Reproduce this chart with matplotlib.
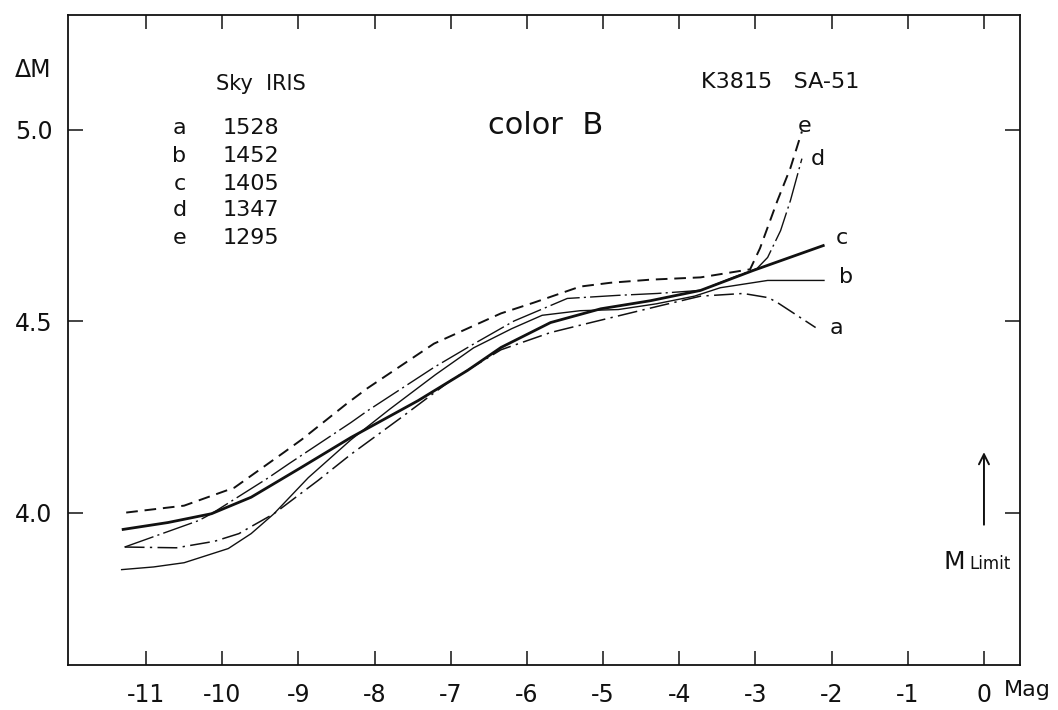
import numpy as np
import matplotlib
matplotlib.use("Agg")
import matplotlib.pyplot as plt

plt.rcParams['font.family'] = ['DejaVu Sans']
plt.rcParams['axes.unicode_minus'] = False

# curves (Mag, delta M)
a_x = [-11.28, -10.6, -10.1, -9.78, -9.65, -9.32, -8.74, -8.31, -7.65, -7.0, -6.34, -5.69, -5.16, -4.25, -3.72, -3.16, -2.83, -2.71, -2.21]
a_y = [3.91, 3.908, 3.925, 3.945, 3.96, 3.997, 4.084, 4.152, 4.248, 4.345, 4.425, 4.47, 4.496, 4.54, 4.565, 4.572, 4.561, 4.548, 4.483]

b_x = [-11.32, -10.9, -10.5, -9.92, -9.62, -9.32, -8.87, -8.31, -7.8, -7.2, -6.7, -6.2, -5.8, -5.3, -4.8, -4.3, -3.8, -3.46, -2.84, -2.1]
b_y = [3.851, 3.858, 3.869, 3.906, 3.945, 3.997, 4.091, 4.19, 4.27, 4.36, 4.43, 4.48, 4.515, 4.527, 4.53, 4.545, 4.565, 4.587, 4.606, 4.606]

c_x = [-11.3, -10.71, -10.14, -9.62, -8.96, -8.31, -7.43, -6.78, -6.34, -5.69, -5.03, -4.38, -3.72, -3.03, -2.11]
c_y = [3.956, 3.974, 3.997, 4.04, 4.118, 4.196, 4.292, 4.371, 4.431, 4.496, 4.532, 4.553, 4.58, 4.632, 4.697]

d_x = [-11.28, -10.31, -10.14, -9.4, -9.12, -8.31, -8.09, -7.22, -6.70, -6.17, -5.47, -4.81, -4.29, -3.72, -3.29, -2.98, -2.84, -2.67, -2.54, -2.39]
d_y = [3.91, 3.979, 3.997, 4.09, 4.128, 4.235, 4.266, 4.379, 4.44, 4.50, 4.559, 4.567, 4.572, 4.58, 4.614, 4.637, 4.666, 4.736, 4.815, 4.924]

e_x = [-11.26, -10.5, -9.84, -9.19, -8.96, -8.36, -8.09, -7.22, -6.34, -5.91, -5.3, -4.9, -4.38, -3.72, -3.07, -2.94, -2.71, -2.54, -2.39]
e_y = [4.0, 4.018, 4.065, 4.157, 4.19, 4.285, 4.325, 4.441, 4.52, 4.548, 4.59, 4.60, 4.608, 4.614, 4.635, 4.69, 4.815, 4.90, 4.995]

names = ['a', 'b', 'c', 'd', 'e']
sky_iris = ['1528', '1452', '1405', '1347', '1295']

x_ticks = [-11, -10, -9, -8, -7, -6, -5, -4, -3, -2, -1, 0]
y_ticks = [4.0, 4.5, 5.0]

fig = plt.figure(figsize=(10.58, 7.10), dpi=100)
ax = fig.add_axes([68/1058, 1-665/710, (1020-68)/1058, (665-15)/710])
ax.set_xlim(-12.024, 0.473)
ax.set_ylim(3.602, 5.299)

k = '#111111'
ax.plot(a_x, a_y, color=k, lw=1.1, linestyle=(0, (13, 3.5, 1.5, 3.5)))
ax.plot(b_x, b_y, color=k, lw=1.0)
ax.plot(c_x, c_y, color=k, lw=2.0)
ax.plot(d_x, d_y, color=k, lw=1.0, linestyle=(0, (22, 3, 1.5, 3)))
ax.plot(e_x, e_y, color=k, lw=1.4, linestyle=(0, (6, 3.5)))

# curve labels at the right end
lab_pos = {'a': (-1.94, 4.483), 'b': (-1.81, 4.614), 'c': (-1.87, 4.718),
           'd': (-2.18, 4.924), 'e': (-2.36, 5.008)}
for n in names:
    ax.text(lab_pos[n][0], lab_pos[n][1], n, fontsize=16, ha='center', va='center', color=k)

# ticks
ax.set_xticks(x_ticks)
ax.set_xticklabels(['%d' % t for t in x_ticks], fontsize=17)
ax.set_yticks(y_ticks)
ax.set_yticklabels(['%.1f' % t for t in y_ticks], fontsize=17)
ax.tick_params(axis='x', direction='in', length=10, width=1.1, pad=13, top=True, colors=k)
ax.tick_params(axis='y', direction='in', length=11, width=1.1, pad=11, right=True, colors=k)
for s in ax.spines.values():
    s.set_linewidth(1.3)
    s.set_color(k)

# legend block
ax.text(-9.49, 5.12, 'Sky  IRIS', fontsize=15, ha='center', va='center', color=k)
rows_y = [5.003, 4.932, 4.859, 4.789, 4.718]
for n, v, yy in zip(names, sky_iris, rows_y):
    ax.text(-10.56, yy, n, fontsize=16, ha='center', va='center', color=k)
    ax.text(-9.99, yy, v, fontsize=16, ha='left', va='center', color=k)

ax.text(-5.75, 5.01, 'color  B', fontsize=22, ha='center', va='center', color=k)
ax.text(-2.67, 5.123, 'K3815   SA-51', fontsize=16, ha='center', va='center', color=k)

# limiting magnitude arrow
ax.annotate('', xy=(0, 4.165), xytext=(0, 3.961),
            arrowprops=dict(arrowstyle='->', color=k, lw=1.4, mutation_scale=18))
ax.text(-0.39, 3.872, 'M', fontsize=18, ha='center', va='center', color=k)
ax.text(-0.19, 3.866, 'Limit', fontsize=12, ha='left', va='center', color=k)

fig.text(15/1058, 1-70/710, 'ΔM', fontsize=17, ha='left', va='center', color=k)
fig.text(1004/1058, 1-690/710, 'Mag', fontsize=16, ha='left', va='center', color=k)

fig.savefig('out.png', dpi=100, facecolor='white')
